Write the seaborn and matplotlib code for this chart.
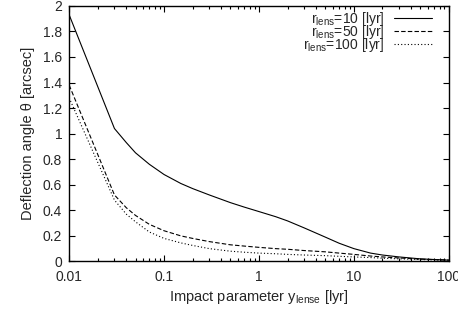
import matplotlib
matplotlib.use('Agg')
import matplotlib.pyplot as plt
import matplotlib.ticker as mticker
import numpy as np
import pandas as pd
import seaborn as sns

# impact parameter grid [lyr]
y_lense = [0.01, 0.03, 0.04, 0.05, 0.07, 0.1, 0.15, 0.2, 0.3, 0.5, 0.7, 1,
           1.5, 2, 3, 5, 7, 10, 15, 20, 30, 50, 70, 100]

# deflection angle [arcsec] for each lens distance
theta_r10 = [1.93, 1.04, 0.93, 0.85, 0.76, 0.68, 0.61, 0.57, 0.52, 0.46, 0.425, 0.39,
             0.35, 0.317, 0.262, 0.19, 0.142, 0.10, 0.065, 0.05, 0.035, 0.02, 0.015, 0.01]
theta_r50 = [1.38, 0.52, 0.42, 0.36, 0.29, 0.24, 0.20, 0.18, 0.155, 0.13, 0.12, 0.11,
             0.10, 0.095, 0.085, 0.075, 0.065, 0.055, 0.042, 0.035, 0.027, 0.018, 0.014, 0.01]
theta_r100 = [1.28, 0.48, 0.37, 0.31, 0.23, 0.18, 0.145, 0.125, 0.10, 0.08, 0.072, 0.065,
              0.06, 0.055, 0.05, 0.045, 0.04, 0.035, 0.03, 0.025, 0.02, 0.015, 0.012, 0.01]

labels = [r'r$_{\mathregular{lens}}$=10 [lyr]',
          r'r$_{\mathregular{lens}}$=50 [lyr]',
          r'r$_{\mathregular{lens}}$=100 [lyr]']

df = pd.DataFrame({
    'y': y_lense * 3,
    'theta': theta_r10 + theta_r50 + theta_r100,
    'lens': [labels[0]] * len(y_lense) + [labels[1]] * len(y_lense) + [labels[2]] * len(y_lense),
})

sns.set_style('ticks')
plt.rcParams['font.family'] = ['Liberation Sans', 'DejaVu Sans']
plt.rcParams['font.size'] = 10.5

fig = plt.figure(figsize=(4.58, 3.09), dpi=100)
ax = fig.add_axes([0.151, 0.154, 0.829, 0.827])

sns.lineplot(data=df, x='y', y='theta', style='lens', color='black',
             dashes={labels[0]: '', labels[1]: (4, 2), labels[2]: (1, 2)},
             linewidth=0.8, ax=ax)

ax.set_xscale('log')
ax.set_xlim(0.01, 100)
ax.set_ylim(0, 2)
ax.xaxis.set_major_locator(mticker.FixedLocator([0.01, 0.1, 1, 10, 100]))
ax.xaxis.set_major_formatter(mticker.FixedFormatter(['0.01', '0.1', '1', '10', '100']))
ax.xaxis.set_minor_locator(mticker.LogLocator(base=10, subs=np.arange(2, 10)))
ax.xaxis.set_minor_formatter(mticker.NullFormatter())
ax.yaxis.set_major_locator(mticker.MultipleLocator(0.2))
ax.yaxis.set_major_formatter(mticker.FormatStrFormatter('%g'))

ax.tick_params(which='both', direction='in', top=True, right=True, labelsize=10, width=0.8, color='black')
ax.tick_params(which='major', length=4)
ax.tick_params(which='minor', length=2)
ax.tick_params(axis='x', which='major', pad=6)
ax.tick_params(axis='y', which='major', pad=5)
for s in ax.spines.values():
    s.set_linewidth(1.0)
    s.set_color('black')

ax.set_xlabel(r'Impact parameter y$_{\mathregular{lense}}$ [lyr]', fontsize=10.5, labelpad=3)
ax.set_ylabel('Deflection angle θ [arcsec]', fontsize=10.5, labelpad=6)

ax.legend(loc='upper right', bbox_to_anchor=(0.955, 0.985), frameon=False,
          markerfirst=False, fontsize=10, handlelength=2.7, handletextpad=0.7,
          labelspacing=-0.35, borderpad=0, borderaxespad=0, title=None)
for t in ax.get_legend().get_texts():
    t.set_ha('right')
leg = ax.get_legend()
leg._legend_box.align = 'right'

fig.savefig('out.png', dpi=100)
